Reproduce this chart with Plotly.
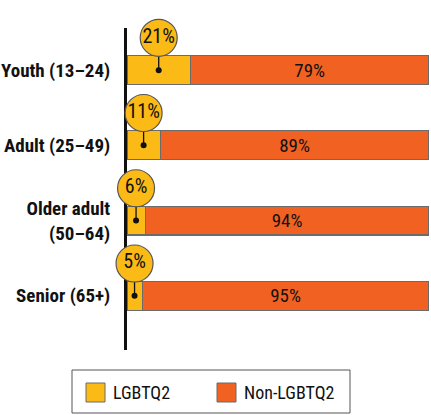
import plotly.graph_objects as go

categories = ["Youth (13–24)", "Adult (25–49)", "Older adult<br>(50–64)", "Senior (65+)"]
lgbtq = [21, 11, 6, 5]
non_lgbtq = [79, 89, 94, 95]
series_names = ["LGBTQ2", "Non-LGBTQ2"]

YELLOW = "#FBBA16"
ORANGE = "#F16122"
EDGE = "#6b6b6b"
FONT = "Roboto Condensed, Liberation Sans Narrow, sans-serif"

BAR_W = 0.385
pos = list(range(len(categories)))
fig = go.Figure()
fig.add_trace(go.Bar(y=pos, x=lgbtq, orientation="h", name=series_names[0],
                     marker=dict(color=YELLOW, line=dict(color=EDGE, width=1.2)),
                     width=BAR_W, showlegend=False, hoverinfo="skip"))
fig.add_trace(go.Bar(y=pos, x=non_lgbtq, orientation="h", name=series_names[1],
                     marker=dict(color=ORANGE, line=dict(color=EDGE, width=1.2)),
                     width=BAR_W, showlegend=False,
                     text=[f"{v}%" for v in non_lgbtq], textposition="inside",
                     insidetextanchor="middle", textangle=0,
                     textfont=dict(family=FONT, size=19, color="#111111"),
                     hoverinfo="skip"))

# pointer lines + dots
for i, v in enumerate(lgbtq):
    fig.add_trace(go.Scatter(x=[v / 2, v / 2], y=[i, i - BAR_W / 2], mode="lines",
                             line=dict(color="#111111", width=1.3),
                             showlegend=False, hoverinfo="skip"))
fig.add_trace(go.Scatter(x=[v / 2 for v in lgbtq], y=pos, mode="markers",
                         marker=dict(color="#111111", size=6),
                         showlegend=False, hoverinfo="skip"))
# bubbles
fig.add_trace(go.Scatter(x=[v / 2 for v in lgbtq], y=[i - 0.43 for i in pos],
                         mode="markers+text", text=[f"{v}%" for v in lgbtq],
                         textposition="middle center",
                         textfont=dict(family=FONT, size=20, color="#111111"),
                         marker=dict(color=YELLOW, size=37, opacity=1,
                                     line=dict(color="#555555", width=1.2)),
                         showlegend=False, hoverinfo="skip", cliponaxis=False))

fig.update_layout(
    barmode="stack", width=431, height=415,
    margin=dict(l=127, r=2, t=28, b=65),
    paper_bgcolor="white", plot_bgcolor="white",
    xaxis=dict(range=[0, 100], visible=False),
    yaxis=dict(range=[3.72, -0.56], tickvals=pos, ticktext=categories,
               automargin=False, layer="below traces",
               showgrid=False, zeroline=False, showline=True, linecolor="#111111",
               linewidth=3, ticks="", ticklabelstandoff=10,
               tickfont=dict(family=FONT, size=19, color="#111111", weight="bold")),
)

# manual legend box
fig.add_shape(type="rect", xref="paper", yref="paper",
              x0=(72 - 127) / 302, x1=(350 - 127) / 302,
              y0=-(413 - 350) / 322, y1=-(370 - 350) / 322,
              line=dict(color="#555555", width=1), fillcolor="white")
for name, color, xl in zip(series_names, [YELLOW, ORANGE], [86, 217]):
    fig.add_shape(type="rect", xref="paper", yref="paper",
                  x0=(xl - 127) / 302, x1=(xl + 19 - 127) / 302,
                  y0=-(402 - 350) / 322, y1=-(383 - 350) / 322,
                  line=dict(color=EDGE, width=1), fillcolor=color)
    fig.add_annotation(xref="paper", yref="paper", x=(xl + 25 - 127) / 302,
                       y=-(392.5 - 350) / 322, text=name, showarrow=False,
                       xanchor="left", yanchor="middle",
                       font=dict(family=FONT, size=18, color="#111111"))

fig.write_html("out.html", config={"displayModeBar": False},
               post_script="document.body.style.margin='0px';")
